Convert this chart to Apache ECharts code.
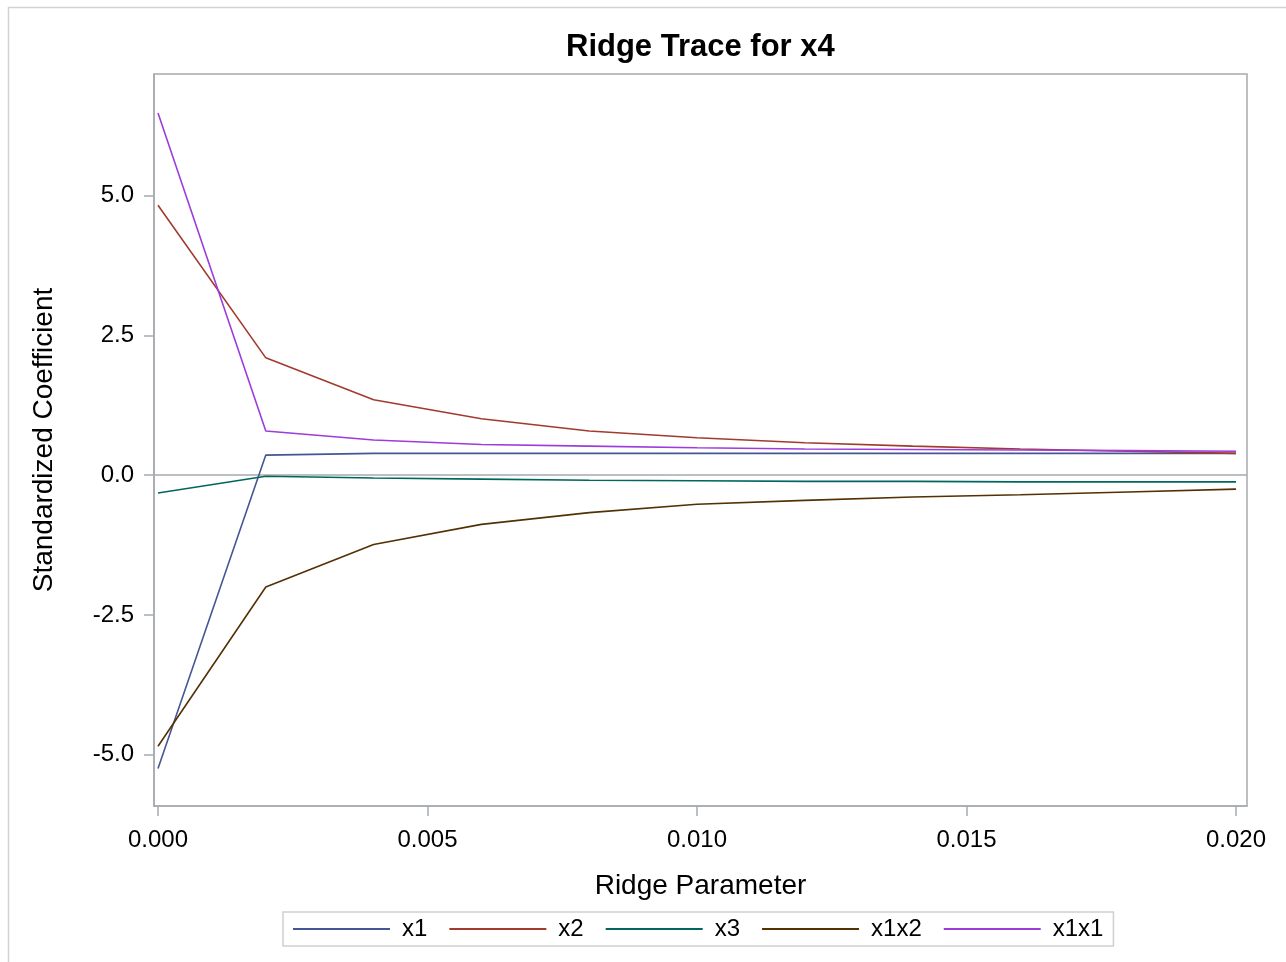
<!DOCTYPE html>
<html>
<head>
<meta charset="utf-8">
<title>Ridge Trace for x4</title>
<script src="https://cdn.jsdelivr.net/npm/echarts@6/dist/echarts.min.js"></script>
<style>
  html, body { margin: 0; padding: 0; background: #fff; }
  #main { width: 1286px; height: 962px; }
</style>
</head>
<body>
<div id="main"></div>
<script>
// ridge parameter values (x) and standardized coefficients per variable
var ridgeK = [0, 0.002, 0.004, 0.006, 0.008, 0.010, 0.012, 0.014, 0.016, 0.018, 0.020];
var x1   = [-5.25, 0.36, 0.39, 0.39, 0.39, 0.39, 0.39, 0.39, 0.39, 0.39, 0.39];
var x2   = [4.83, 2.10, 1.35, 1.01, 0.79, 0.67, 0.58, 0.52, 0.47, 0.43, 0.39];
var x3   = [-0.32, -0.02, -0.05, -0.07, -0.09, -0.10, -0.11, -0.11, -0.12, -0.12, -0.12];
var x1x2 = [-4.85, -2.00, -1.24, -0.88, -0.67, -0.52, -0.45, -0.39, -0.35, -0.30, -0.25];
var x1x1 = [6.48, 0.79, 0.63, 0.55, 0.52, 0.49, 0.47, 0.46, 0.45, 0.44, 0.43];

var seriesNames = ['x1', 'x2', 'x3', 'x1x2', 'x1x1'];
var seriesValues = [x1, x2, x3, x1x2, x1x1];
var seriesColors = ['#445694', '#A23A2E', '#01665E', '#543005', '#9D3CDB'];

var xTicks = [0, 0.005, 0.010, 0.015, 0.020];
var yTicks = [-5, -2.5, 0, 2.5, 5];

var frameColor = '#a6aaae';
var font = 'Liberation Sans, Arial, sans-serif';

var myChart = echarts.init(document.getElementById('main'));

var series = seriesNames.map(function (name, i) {
    var s = {
        name: name,
        type: 'line',
        symbol: 'none',
        data: ridgeK.map(function (k, j) { return [k, seriesValues[i][j]]; }),
        lineStyle: { color: seriesColors[i], width: 1.6 },
        itemStyle: { color: seriesColors[i] },
        z: 3
    };
    if (i === 0) {
        // reference line at zero
        s.markLine = {
            silent: true,
            symbol: 'none',
            label: { show: false },
            lineStyle: { color: frameColor, width: 1.5, type: 'solid' },
            data: [{ yAxis: 0 }],
            z: 1
        };
    }
    return s;
});

myChart.setOption({
    animation: false,
    backgroundColor: '#fff',
    graphic: [{
        type: 'rect',
        shape: { x: 8.5, y: 7.5, width: 1400, height: 1000 },
        style: { fill: 'none', stroke: '#d2d2d2', lineWidth: 1.5 },
        silent: true,
        z: -10
    }],
    title: {
        text: 'Ridge Trace for x4',
        left: 561,
        top: 27,
        textStyle: { fontFamily: font, fontSize: 31, fontWeight: 'bold', color: '#000' }
    },
    legend: {
        data: seriesNames,
        left: 283,
        top: 912,
        padding: [5, 10],
        icon: 'rect',
        borderColor: '#cfcfcf',
        borderWidth: 1.5,
        itemWidth: 97,
        itemHeight: 2,
        itemGap: 22,
        textStyle: { fontFamily: font, fontSize: 24, color: '#000', padding: [0, 0, 0, 7], lineHeight: 24 }
    },
    grid: {
        left: 154,
        right: 39,
        top: 74,
        bottom: 156,
        show: true,
        borderColor: frameColor,
        borderWidth: 1.5,
        containLabel: false
    },
    xAxis: {
        type: 'value',
        min: -0.0000742,
        max: 0.020204,
        name: 'Ridge Parameter',
        nameLocation: 'middle',
        nameGap: 66,
        nameTextStyle: { fontFamily: font, fontSize: 28, color: '#000' },
        axisLine: { show: true, onZero: false, lineStyle: { color: frameColor, width: 1.5 } },
        axisTick: { show: true, length: 10, customValues: xTicks, lineStyle: { color: frameColor, width: 1.5 } },
        axisLabel: {
            customValues: xTicks,
            margin: 22,
            fontFamily: font,
            fontSize: 24,
            color: '#000',
            formatter: function (v) { return v.toFixed(3); }
        },
        splitLine: { show: false }
    },
    yAxis: {
        type: 'value',
        min: -5.92,
        max: 7.18,
        name: 'Standardized Coefficient',
        nameLocation: 'middle',
        nameGap: 96,
        nameTextStyle: { fontFamily: font, fontSize: 28, color: '#000' },
        axisLine: { show: true, onZero: false, lineStyle: { color: frameColor, width: 1.5 } },
        axisTick: { show: true, length: 10, customValues: yTicks, lineStyle: { color: frameColor, width: 1.5 } },
        axisLabel: {
            customValues: yTicks,
            margin: 20,
            fontFamily: font,
            fontSize: 24,
            color: '#000',
            formatter: function (v) { return v.toFixed(1); }
        },
        splitLine: { show: false }
    },
    series: series
});
</script>
</body>
</html>
